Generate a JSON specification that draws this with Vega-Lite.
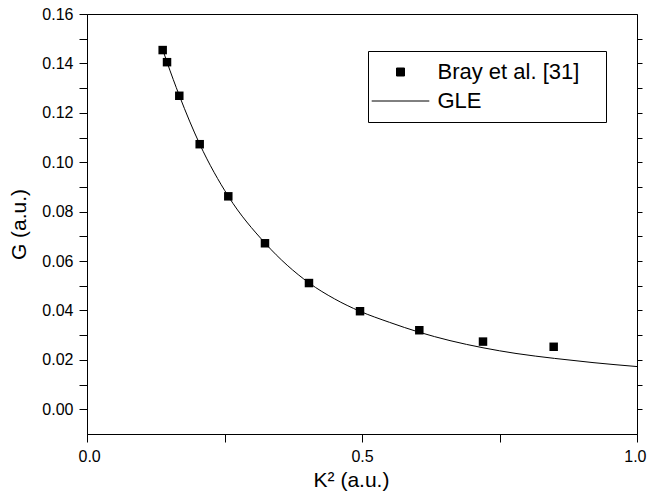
{
  "$schema": "https://vega.github.io/schema/vega-lite/v6.json",
  "width": 550,
  "height": 420,
  "autosize": {"type": "none"},
  "padding": {"left": 87, "top": 14, "right": 10, "bottom": 63},
  "background": "white",
  "config": {
    "font": "Liberation Sans",
    "view": {"stroke": "black", "strokeWidth": 1},
    "axis": {
      "domainColor": "black",
      "domainWidth": 1,
      "tickColor": "black",
      "tickWidth": 1,
      "labelColor": "black",
      "titleColor": "black",
      "grid": false,
      "labelFont": "Liberation Sans",
      "titleFont": "Liberation Sans",
      "labelFontSize": 16,
      "titleFontSize": 21,
      "titleFontWeight": "normal"
    }
  },
  "datasets": {
    "bray": [
      {"K2": 0.1376, "G": 0.1454, "series": "Bray et al. [31]"},
      {"K2": 0.1455, "G": 0.1405, "series": "Bray et al. [31]"},
      {"K2": 0.1678, "G": 0.1269, "series": "Bray et al. [31]"},
      {"K2": 0.2049, "G": 0.1073, "series": "Bray et al. [31]"},
      {"K2": 0.2569, "G": 0.0862, "series": "Bray et al. [31]"},
      {"K2": 0.3236, "G": 0.0672, "series": "Bray et al. [31]"},
      {"K2": 0.4036, "G": 0.0511, "series": "Bray et al. [31]"},
      {"K2": 0.4964, "G": 0.0397, "series": "Bray et al. [31]"},
      {"K2": 0.6042, "G": 0.0320, "series": "Bray et al. [31]"},
      {"K2": 0.7200, "G": 0.0274, "series": "Bray et al. [31]"},
      {"K2": 0.8485, "G": 0.0253, "series": "Bray et al. [31]"}
    ],
    "gle": [
      {"K2": 0.137, "G": 0.1460, "series": "GLE"},
      {"K2": 0.1455, "G": 0.1405, "series": "GLE"},
      {"K2": 0.168, "G": 0.1269, "series": "GLE"},
      {"K2": 0.205, "G": 0.1073, "series": "GLE"},
      {"K2": 0.257, "G": 0.0862, "series": "GLE"},
      {"K2": 0.324, "G": 0.0672, "series": "GLE"},
      {"K2": 0.404, "G": 0.0511, "series": "GLE"},
      {"K2": 0.45, "G": 0.0447, "series": "GLE"},
      {"K2": 0.496, "G": 0.0397, "series": "GLE"},
      {"K2": 0.55, "G": 0.0352, "series": "GLE"},
      {"K2": 0.604, "G": 0.0312, "series": "GLE"},
      {"K2": 0.66, "G": 0.0278, "series": "GLE"},
      {"K2": 0.72, "G": 0.0249, "series": "GLE"},
      {"K2": 0.78, "G": 0.0226, "series": "GLE"},
      {"K2": 0.85, "G": 0.0206, "series": "GLE"},
      {"K2": 0.92, "G": 0.0189, "series": "GLE"},
      {"K2": 1.0, "G": 0.0173, "series": "GLE"}
    ]
  },
  "resolve": {"axis": {"y": "independent"}},
  "layer": [
    {
      "data": {"name": "gle"},
      "mark": {"type": "line", "color": "black", "strokeWidth": 1, "interpolate": "monotone"},
      "encoding": {
        "x": {
          "field": "K2", "type": "quantitative",
          "scale": {"domain": [0, 1], "nice": false, "zero": false},
          "axis": {
            "title": "K² (a.u.)",
            "titleX": 264,
            "values": [0, 0.25, 0.5, 0.75, 1],
            "labelExpr": "datum.value == 0.25 || datum.value == 0.75 ? '' : format(datum.value, '.1f')",
            "tickSize": 8,
            "labelPadding": 6,
            "titlePadding": 5,
            "labelFlush": true,
            "labelFlushOffset": 9,
            "encode": {
              "ticks": {"update": {"y2": {"signal": "datum.value == 0.25 || datum.value == 0.75 ? 5 : 8"}}}
            }
          }
        },
        "y": {
          "field": "G", "type": "quantitative",
          "scale": {"domain": [-0.01, 0.16], "nice": false, "zero": false},
          "axis": {
            "orient": "left",
            "title": "G (a.u.)",
            "values": [0, 0.01, 0.02, 0.03, 0.04, 0.05, 0.06, 0.07, 0.08, 0.09, 0.1, 0.11, 0.12, 0.13, 0.14, 0.15, 0.16],
            "labelExpr": "round(datum.value * 100) % 2 == 0 ? format(datum.value, '.2f') : ''",
            "tickSize": 8,
            "labelPadding": 6,
            "titlePadding": 12,
            "labelFlush": false,
            "encode": {"ticks": {"update": {"x2": {"signal": "round(datum.value * 100) % 2 == 0 ? -8 : -4"}}}}
          }
        },
        "color": {
          "field": "series", "type": "nominal",
          "scale": {"domain": ["Bray et al. [31]", "GLE"], "range": ["black", "black"]},
          "legend": {
            "title": null,
            "orient": "none",
            "legendX": 281,
            "legendY": 37,
            "strokeColor": "black",
            "fillColor": "white",
            "padding": 10,
            "symbolSize": 100,
            "symbolStrokeWidth": 1,
            "symbolOffset": 11.5,
            "labelOffset": 26,
            "labelFontSize": 22,
            "labelFont": "Liberation Sans",
            "labelColor": "black",
            "rowPadding": 7,
            "encode": {
              "symbols": {
                "update": {
                  "shape": {"signal": "datum.value == 'GLE' ? 'M-5.76,0H5.76M38.6,0' : 'square'"},
                  "size": {"signal": "datum.value == 'GLE' ? 100 : 64"},
                  "fill": {"signal": "datum.value == 'GLE' ? 'transparent' : 'black'"},
                  "stroke": {"value": "black"},
                  "strokeWidth": {"value": 1},
                  "opacity": {"value": 1}
                }
              }
            }
          }
        }
      }
    },
    {
      "data": {"name": "bray"},
      "mark": {"type": "point", "shape": "square", "filled": true, "size": 72, "opacity": 1, "color": "black"},
      "encoding": {
        "x": {
          "field": "K2", "type": "quantitative",
          "scale": {"domain": [0, 1], "nice": false, "zero": false},
          "axis": {
            "title": "K² (a.u.)",
            "titleX": 264,
            "values": [0, 0.25, 0.5, 0.75, 1],
            "labelExpr": "datum.value == 0.25 || datum.value == 0.75 ? '' : format(datum.value, '.1f')",
            "tickSize": 8,
            "labelPadding": 6,
            "titlePadding": 5,
            "labelFlush": true,
            "labelFlushOffset": 9,
            "encode": {
              "ticks": {"update": {"y2": {"signal": "datum.value == 0.25 || datum.value == 0.75 ? 5 : 8"}}}
            }
          }
        },
        "y": {
          "field": "G", "type": "quantitative",
          "scale": {"domain": [-0.01, 0.16], "nice": false, "zero": false},
          "axis": {
            "orient": "right",
            "title": null,
            "values": [0, 0.01, 0.02, 0.03, 0.04, 0.05, 0.06, 0.07, 0.08, 0.09, 0.1, 0.11, 0.12, 0.13, 0.14, 0.15],
            "labels": false,
            "tickSize": 5,
            "encode": {"ticks": {"update": {"x2": {"signal": "round(datum.value * 100) % 2 == 0 ? -6 : -4"}}}}
          }
        },
        "color": {
          "field": "series", "type": "nominal",
          "scale": {"domain": ["Bray et al. [31]", "GLE"], "range": ["black", "black"]},
          "legend": {
            "title": null,
            "orient": "none",
            "legendX": 281,
            "legendY": 37,
            "strokeColor": "black",
            "fillColor": "white",
            "padding": 10,
            "symbolSize": 100,
            "symbolStrokeWidth": 1,
            "symbolOffset": 11.5,
            "labelOffset": 26,
            "labelFontSize": 22,
            "labelFont": "Liberation Sans",
            "labelColor": "black",
            "rowPadding": 7,
            "encode": {
              "symbols": {
                "update": {
                  "shape": {"signal": "datum.value == 'GLE' ? 'M-5.76,0H5.76M38.6,0' : 'square'"},
                  "size": {"signal": "datum.value == 'GLE' ? 100 : 64"},
                  "fill": {"signal": "datum.value == 'GLE' ? 'transparent' : 'black'"},
                  "stroke": {"value": "black"},
                  "strokeWidth": {"value": 1},
                  "opacity": {"value": 1}
                }
              }
            }
          }
        }
      }
    }
  ]
}
